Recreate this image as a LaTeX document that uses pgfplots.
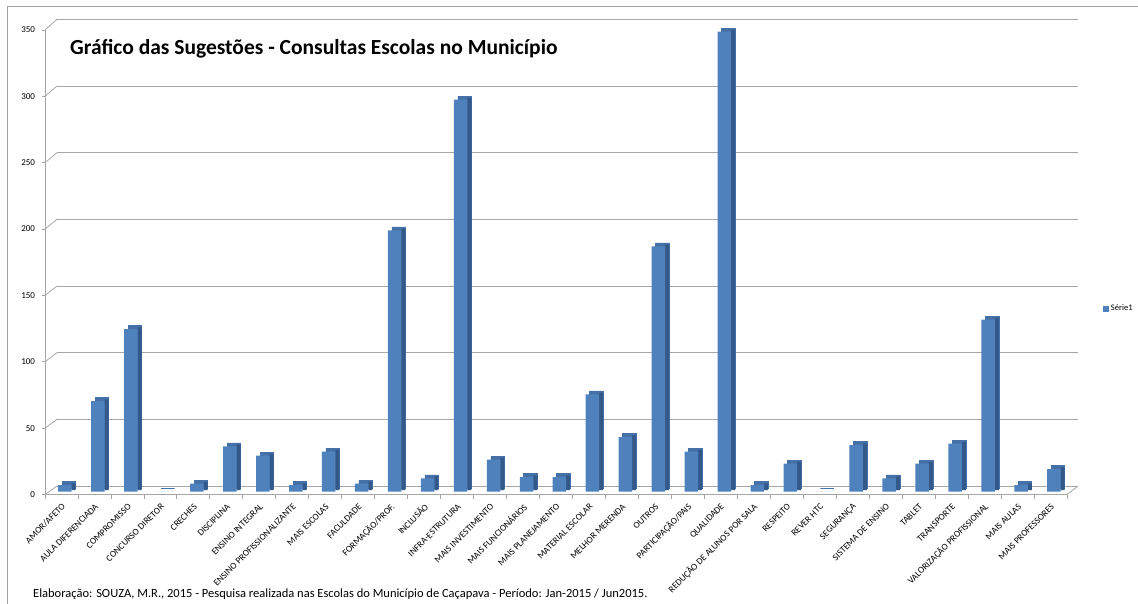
\documentclass[border=0pt]{standalone}
\usepackage{fontspec}
\setmainfont{Carlito}
\usepackage{pgfplots}
\pgfplotsset{compat=1.18}
\usepackage{pgfplotstable}

\definecolor{barfront}{HTML}{4F81BD}
\definecolor{bartop}{HTML}{4570A8}
\definecolor{barside}{HTML}{33598A}
\definecolor{gridgray}{HTML}{A6A6A6}
\definecolor{framegray}{HTML}{A0A0A0}

% Sugestões por categoria (0 = AMOR/AFETO ... 30 = MAIS PROFESSORES)
\pgfplotstableread{
idx value
0 5
1 68
2 122
3 0
4 6
5 34
6 27
7 5
8 30
9 6
10 196
11 10
12 294
13 24
14 11
15 11
16 73
17 41
18 184
19 30
20 345
21 5
22 21
23 0
24 35
25 10
26 21
27 36
28 129
29 5
30 17
}\sugestoes

\begin{document}
\begin{tikzpicture}
\useasboundingbox (0pt,0pt) rectangle (1138pt,603pt);

% parede do fundo com as linhas de grade
\begin{axis}[
  at={(57pt,117pt)}, anchor=south west,
  scale only axis, width=1021pt, height=466.7pt,
  xmin=-0.5, xmax=30.5, ymin=0, ymax=350,
  axis line style={draw=none},
  xtick=\empty, ytick={0,50,...,350}, yticklabels={},
  major tick length=0pt,
  ymajorgrids, grid style={gridgray, line width=0.8pt},
]
\end{axis}

\begin{scope}[x=1pt,y=1pt]
% moldura do gráfico
\draw[framegray, line width=0.8pt] (7.5,-10) -- (7.5,597) -- (1150,597);
% ligações entre o eixo da frente e a parede
\foreach \v in {0,50,...,350}{
  \draw[gridgray, line width=0.8pt] (45,108.5+\v*1.3271) -- (57,117+\v*1.3334);
}
\draw[gridgray, line width=0.8pt] (1067,108.5) -- (1078,117);
\end{scope}

% eixo da frente: valores e categorias
\begin{axis}[
  at={(45pt,108.5pt)}, anchor=south west,
  scale only axis, width=1022pt, height=464.5pt,
  xmin=-0.5, xmax=30.5, ymin=0, ymax=350,
  axis x line*=bottom, axis y line*=left,
  axis line style={gridgray, line width=0.8pt},
  tick align=outside,
  ytick={0,50,...,350},
  major tick length=3pt,
  tick style={gridgray, line width=0.8pt},
  /pgf/number format/assume math mode=true,
  yticklabel style={font=\fontsize{9}{10}\selectfont, text=black, xshift=-3.5pt},
  xtick={0,...,30},
  major x tick style={draw=none},
  minor xtick={-0.5,0.5,...,30.5},
  minor tick length=4pt,
  xticklabels={AMOR/AFETO, AULA DIFERENCIADA, COMPROMISSO, CONCURSO DIRETOR,
    CRECHES, DISCIPLINA, ENSINO INTEGRAL, ENSINO PROFISSIONALIZANTE,
    MAIS ESCOLAS, FACULDADE, FORMAÇÃO/PROF., INCLUSÃO, INFRA-ESTRUTURA,
    MAIS INVESTIMENTO, MAIS FUNCIONÁRIOS, MAIS PLANEJAMENTO, MATERIAL ESCOLAR,
    MELHOR MERENDA, OUTROS, PARTICIPAÇÃO/PAIS, QUALIDADE,
    REDUÇÃO DE ALUNOS POR SALA, RESPEITO, REVER HTC, SEGURANÇA,
    SISTEMA DE ENSINO, TABLET, TRANSPORTE, VALORIZAÇÃO PROFISSIONAL,
    MAIS AULAS, MAIS PROFESSORES},
  xticklabel style={font=\fontsize{9.2}{10}\selectfont, xshift=3pt, yshift=-7pt,
    rotate=45, anchor=east, inner sep=1pt},
]
\end{axis}

% colunas em 3D (face superior, lateral e frontal)
\begin{axis}[
  at={(48.5pt,111.3pt)}, anchor=south west,
  scale only axis, width=1022pt, height=466.7pt,
  xmin=-0.5, xmax=30.5, ymin=0, ymax=350,
  hide axis, clip=false,
  legend style={at={(1.032,0.392)}, anchor=west, draw=none, fill=none,
    font=\fontsize{8.5}{9}\selectfont, inner sep=0pt},
  legend image code/.code={\fill[barfront] (0pt,-2.8pt) rectangle (5.6pt,2.8pt);},
]
\addplot[ybar, bar width=13.5pt, bar shift=4pt, yshift=3.4pt,
  fill=bartop, draw=bartop, line width=0.6pt, forget plot] table[x=idx, y=value] {\sugestoes};
\addplot[ybar, bar width=4pt, bar shift=8.75pt, yshift=1.7pt,
  fill=barside, draw=none, forget plot] table[x=idx, y=value] {\sugestoes};
\addplot[ybar, bar width=13.5pt, bar shift=0pt,
  fill=barfront, draw=none] table[x=idx, y=value] {\sugestoes};
\addlegendentry{Série1}
\end{axis}

% título e nota de rodapé
\node[anchor=base west, inner sep=0pt, font=\bfseries\fontsize{21.5}{24}\selectfont] at (70pt,548pt) {Gráfico das Sugestões - Consultas Escolas no Município};
\node[anchor=base west, inner sep=0pt, font=\fontsize{12.5}{14}\selectfont] at (33pt,5.5pt) {Elaboração: SOUZA, M.R., 2015 - Pesquisa realizada nas Escolas do Município de Caçapava - Período: Jan-2015 / Jun2015.};
\end{tikzpicture}
\end{document}
